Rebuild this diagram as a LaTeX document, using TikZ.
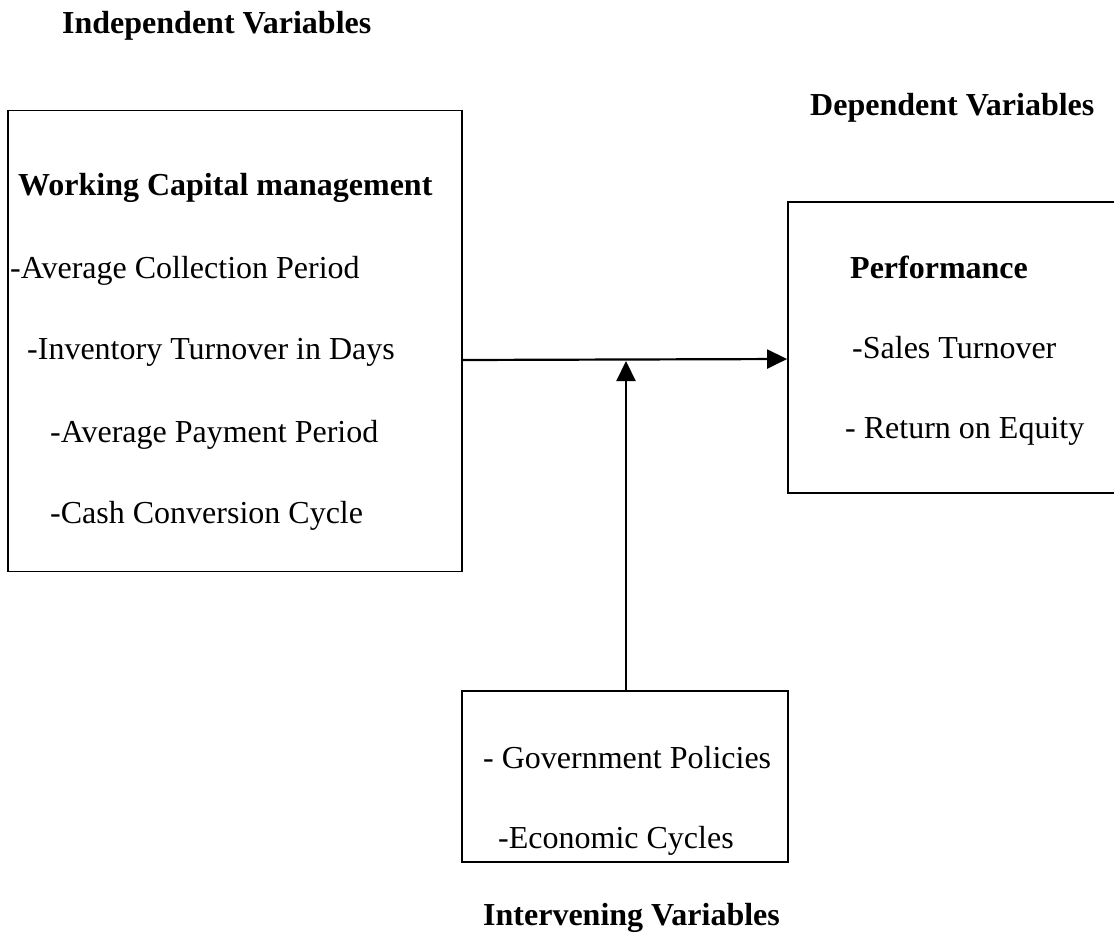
\documentclass[tikz,border=0pt]{standalone}
\usepackage{fontspec}
\setmainfont{Liberation Serif}
\usetikzlibrary{arrows.meta}
\begin{document}
\begin{tikzpicture}[x=1pt,y=-1pt,
  box/.style={draw, line width=1.8pt, rectangle, inner sep=0pt},
  txt/.style={anchor=base west, inner sep=0pt, font=\fontsize{32}{38}\selectfont},
  btxt/.style={txt, font=\fontsize{32}{38}\selectfont\bfseries},
  arr/.style={line width=2.2pt, -{Triangle[length=20pt,width=19pt]}}]
\useasboundingbox (0,0) rectangle (1114,938);
% boxes
\node[box, minimum width=454pt, minimum height=461pt] (wcm) at (235,341) {};
\node[box, minimum width=332pt, minimum height=291pt] (perf) at (954,347.5) {};
\node[box, minimum width=326pt, minimum height=171pt] (intv) at (625,776.5) {};
% headings
\node[btxt] (h1) at (62,33) {Independent Variables};
\node[btxt] (h2) at (810,115) {Dependent Variables};
\node[btxt] (h3) at (483,925) {Intervening Variables};
% left box text
\node[btxt] (t1) at (18,195) {Working Capital management};
\node[txt] (t2) at (10,278) {-Average Collection Period};
\node[txt] (t3) at (27,359) {-Inventory Turnover in Days};
\node[txt] (t4) at (50,442) {-Average Payment Period};
\node[txt] (t5) at (50,523) {-Cash Conversion Cycle};
% right box text
\node[btxt] (p1) at (850,278) {Performance};
\node[txt] (p2) at (852,358) {-Sales Turnover};
\node[txt] (p3) at (845,438) {- Return on Equity};
% bottom box text
\node[txt] (i1) at (483,768) {- Government Policies};
\node[txt] (i2) at (498,848) {-Economic Cycles};
% connectors
\coordinate (a) at (wcm.east |- 0,360);
\coordinate (b) at (perf.west |- 0,359);
\draw[arr] (a) -- (b);
\coordinate (m) at (626,361);
\draw[arr] (intv.north -| m) -- (m);
\end{tikzpicture}
\end{document}
